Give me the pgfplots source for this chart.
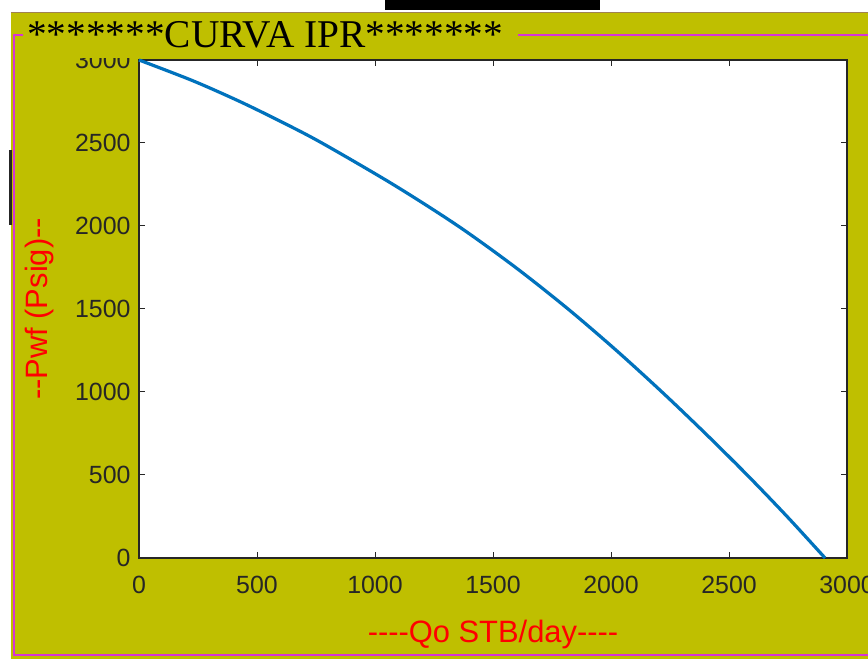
\documentclass[border=0pt]{standalone}
\usepackage{pgfplots}
\pgfplotsset{compat=1.18}
\usepackage{pgfplotstable}
\usepackage{fontspec}
\setmainfont{Liberation Sans}
\newfontfamily\lblfont{Liberation Sans}[Ligatures=TeXOff]
\newfontfamily\titlefont{Liberation Serif}
\definecolor{guiolive}{RGB}{191,191,0}
\definecolor{mag}{RGB}{214,52,214}
\definecolor{axgray}{RGB}{38,38,38}
\definecolor{mblue}{RGB}{0,114,189}
\definecolor{tanline}{RGB}{160,130,80}

\pgfplotstableread{
q p
0 3000
228 2875
427 2750
607 2625
775 2500
1077 2250
1352 2000
1596 1750
1818 1500
2023 1250
2216 1000
2400 750
2577 500
2746 250
2907 0
}\iprdata

\begin{document}
\begin{tikzpicture}[x=1bp,y=1bp]
\useasboundingbox (-139,-101) rectangle ++(868,659);
\clip (-139,-101) rectangle ++(868,659);
\begin{scope}[shift={(-139,-101)}]
\fill[white] (0,0) rectangle (868,659);
\fill[guiolive] (11,0) rectangle (868,646);
\fill[black!85] (9,434) rectangle (12,509);
\fill[black] (385,649) rectangle (600,659);
\draw[tanline, line width=1.5bp] (11,646.5) -- (868,646.5);
\draw[mag, line width=1.5bp] (23,624) -- (14,624) -- (14,4) -- (868,4);
\draw[mag, line width=1.5bp] (518,624) -- (868,624);
\end{scope}
\begin{axis}[
  width=708bp, height=498bp, scale only axis,
  xmin=0, xmax=3000, ymin=0, ymax=3000,
  xtick={0,500,...,3000}, ytick={0,500,...,3000},
  tick align=inside, major tick length=6bp,
  axis line style={axgray, line width=1.2bp},
  every tick/.style={axgray, line width=1bp},
  axis background/.style={fill=white},
  tick label style={font=\fontsize{25}{25}\selectfont, text=axgray},
  /pgf/number format/assume math mode=true,
  /pgf/number format/set thousands separator={},
  xticklabel style={yshift=-15bp},
  yticklabel style={xshift=-5bp},
  every axis x label/.style={at={(rel axis cs:0.5,0)}, yshift=-77bp, anchor=center},
  every axis y label/.style={at={(rel axis cs:0,0.5)}, xshift=-99bp, rotate=90, anchor=center},
  label style={font=\lblfont\fontsize{31}{31}\selectfont, text=red},
  xlabel={----Qo STB/day----},
  ylabel={--Pwf (Psig)--},
  clip=false,
]
\addplot[mblue, line width=3.2bp, smooth, tension=0.5] table[x=q, y=p] {\iprdata};
\end{axis}
\begin{scope}[shift={(-139,-101)}]
\fill[guiolive] (24,601) rectangle (515,645.5);
\node[anchor=base west, inner sep=0, font=\titlefont\fontsize{39.5}{39.5}\selectfont] at (27,611) {*******CURVA IPR*******};
\end{scope}
\end{tikzpicture}
\end{document}
